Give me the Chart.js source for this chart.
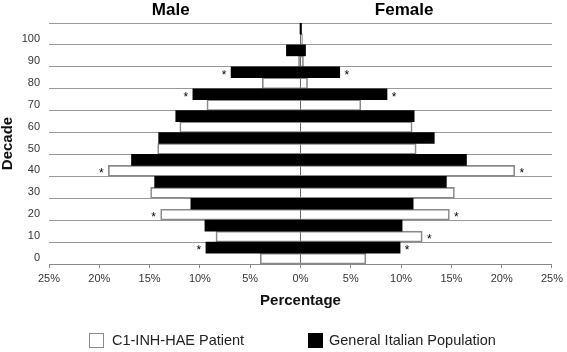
<!DOCTYPE html>
<html>
<head>
<meta charset="utf-8">
<script src="https://cdn.jsdelivr.net/npm/chart.js@4"></script>
<style>
    html, body { margin: 0; padding: 0; background: #fff; }
</style>
</head>
<body>
<canvas id="pyramid" width="567" height="352"></canvas>
<script>
/* Age pyramid: C1-INH-HAE patients vs general Italian population */

// decades, top to bottom
const decades = ['100', '90', '80', '70', '60', '50', '40', '30', '20', '10', '0'];

// General Italian Population (%)
const popMale   = [0.05, 1.4, 6.9, 10.7, 12.4, 14.1, 16.8, 14.5, 10.9, 9.5, 9.4];
const popFemale = [0.1, 0.5, 3.9, 8.6, 11.3, 13.3, 16.5, 14.5, 11.2, 10.1, 9.9];

// C1-INH-HAE Patient (%)
const patMale   = [0, 0.2, 3.8, 9.3, 12.0, 14.2, 19.1, 14.9, 13.9, 8.4, 4.0];
const patFemale = [0.2, 0.3, 0.7, 6.0, 11.1, 11.5, 21.3, 15.3, 14.8, 12.1, 6.5];

// significance asterisks (1 = starred)
const popStarMale   = [0, 0, 1, 1, 0, 0, 0, 0, 0, 0, 1];
const popStarFemale = [0, 0, 1, 1, 0, 0, 0, 0, 0, 0, 1];
const patStarMale   = [0, 0, 0, 0, 0, 0, 1, 0, 1, 0, 0];
const patStarFemale = [0, 0, 0, 0, 0, 0, 1, 0, 1, 1, 0];

const FONT = "'Liberation Sans', Arial, sans-serif";
Chart.defaults.font.family = FONT;

const extras = {
    id: 'extras',
    afterDatasetsDraw(chart) {
        const ctx = chart.ctx;
        const x = chart.scales.x;
        ctx.save();
        ctx.fillStyle = '#000';
        ctx.textAlign = 'center';
        ctx.textBaseline = 'middle';

        // side headers
        ctx.font = 'bold 17px ' + FONT;
        ctx.fillText('Male', x.getPixelForValue(-12.9), 10);
        ctx.fillText('Female', x.getPixelForValue(10.3), 10);

        // asterisks next to the bars
        ctx.font = '12px ' + FONT;
        const marks = [[0, popStarMale, popStarFemale], [1, patStarMale, patStarFemale]];
        marks.forEach(([di, left, right]) => {
            chart.getDatasetMeta(di).data.forEach((bar, i) => {
                const lo = Math.min(bar.x, bar.base);
                const hi = Math.max(bar.x, bar.base);
                if (left[i]) ctx.fillText('*', lo - 7, bar.y + 3);
                if (right[i]) ctx.fillText('*', hi + 7, bar.y + 3);
            });
        });

        // legend (patient first)
        const items = [
            { ds: chart.data.datasets[1], box: 89, text: 112 },
            { ds: chart.data.datasets[0], box: 308, text: 329 }
        ];
        ctx.font = '14.5px ' + FONT;
        ctx.textAlign = 'left';
        items.forEach(item => {
            ctx.fillStyle = item.ds.legendFill;
            ctx.fillRect(item.box, 333, 15, 15);
            if (item.ds.borderWidth) {
                ctx.strokeStyle = item.ds.borderColor;
                ctx.lineWidth = 1;
                ctx.strokeRect(item.box + 0.5, 333.5, 14, 14);
            }
            ctx.fillStyle = '#222';
            ctx.fillText(item.ds.label, item.text, 341);
        });
        ctx.restore();
    }
};

new Chart(document.getElementById('pyramid'), {
    type: 'bar',
    data: {
        labels: decades,
        datasets: [{
            label: 'General Italian Population',
            data: decades.map((d, i) => [-popMale[i], popFemale[i]]),
            backgroundColor: '#000',
            legendFill: '#000',
            borderWidth: 0
        }, {
            label: 'C1-INH-HAE Patient',
            data: decades.map((d, i) => [-patMale[i], patFemale[i]]),
            backgroundColor: 'rgba(255,255,255,0)',
            legendFill: '#fff',
            borderColor: '#8a8a8a',
            borderWidth: 1,
            borderSkipped: false
        }]
    },
    options: {
        indexAxis: 'y',
        responsive: false,
        animation: false,
        categoryPercentage: 1,
        barPercentage: 1,
        layout: { padding: { top: 23, right: 11, bottom: 42, left: 0 } },
        plugins: {
            legend: { display: false },
            tooltip: { enabled: false }
        },
        scales: {
            x: {
                min: -25,
                max: 25,
                ticks: {
                    stepSize: 5,
                    callback: v => Math.abs(v) + '%',
                    color: '#333',
                    font: { size: 11 },
                    padding: 4,
                    maxRotation: 0
                },
                grid: {
                    color: c => (c.tick && c.tick.value === 0) ? '#666' : 'rgba(0,0,0,0)',
                    tickColor: '#888',
                    tickLength: 4
                },
                border: { display: true, color: '#888' },
                title: {
                    display: true,
                    text: 'Percentage',
                    color: '#111',
                    font: { size: 15, weight: 'bold' },
                    padding: { top: 0, bottom: 0 }
                },
                afterFit: s => { s.height = 46; }
            },
            y: {
                ticks: { color: '#333', font: { size: 11 }, padding: 9, labelOffset: 5 },
                grid: { color: '#999', drawTicks: false },
                border: { display: false },
                title: {
                    display: true,
                    text: 'Decade',
                    color: '#111',
                    font: { size: 15, weight: 'bold', lineHeight: 1 },
                    padding: 0
                },
                afterFit: s => { s.width = 49; }
            }
        }
    },
    plugins: [extras]
});
</script>
</body>
</html>
